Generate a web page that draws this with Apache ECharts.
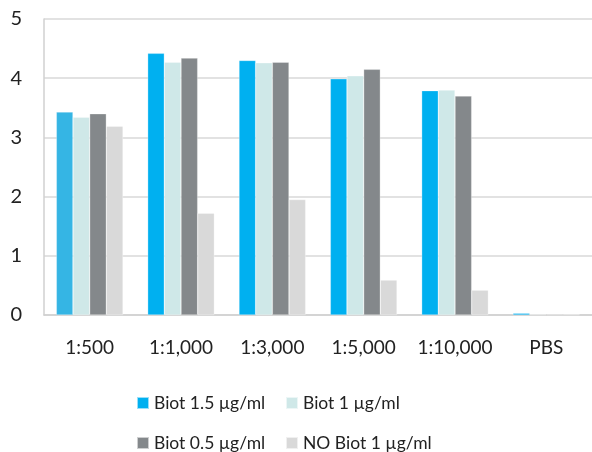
<!DOCTYPE html>
<html><head><meta charset="utf-8">
<script src="https://cdn.jsdelivr.net/npm/echarts@6/dist/echarts.min.js"></script>
<style>html,body{margin:0;padding:0;background:#fff}#c{width:592px;height:452px}</style>
</head><body><div id="c"></div>
<script>
const categories = ['1:500', '1:1,000', '1:3,000', '1:5,000', '1:10,000', 'PBS'];
const seriesNames = ['Biot 1.5 µg/ml', 'Biot 1 µg/ml', 'Biot 0.5 µg/ml', 'NO Biot 1 µg/ml'];
const biot15 = [3.43, 4.42, 4.30, 3.99, 3.79, 0.03];
const biot1 = [3.34, 4.27, 4.26, 4.04, 3.80, 0.01];
const biot05 = [3.40, 4.34, 4.27, 4.15, 3.70, 0.01];
const noBiot1 = [3.19, 1.72, 1.95, 0.59, 0.42, 0.01];
const yTicks = [0, 1, 2, 3, 4, 5];

const colors = ['#00B0F0', '#CFE8E8', '#84888B', '#D9D9D9'];
const values = [biot15, biot1, biot05, noBiot1];
const font = 'Lato, "Open Sans", sans-serif';

const chart = echarts.init(document.getElementById('c'));
const series = values.map((v, i) => ({
  name: seriesNames[i],
  type: 'bar',
  data: v.map((x, j) => (i === 0 && j === 0) ? {value: x, itemStyle: {color: '#35B5E4'}} : x),
  itemStyle: {color: colors[i], borderColor: 'rgba(255,255,255,0.6)', borderWidth: 0.5},
  barGap: '0%',
  barCategoryGap: '27%'
}));
const legendPos = [[131, 389], [280, 389], [131, 429], [280, 429]];
const legends = seriesNames.map((n, i) => ({
  data: [n], left: legendPos[i][0], top: legendPos[i][1],
  icon: 'rect', itemWidth: 12, itemHeight: 12, itemGap: 5,
  textStyle: {fontFamily: font, fontSize: 17.5, color: '#222'},
  selectedMode: false
}));
chart.setOption({
  animation: false,
  color: colors,
  legend: legends,
  grid: {left: 44, top: 19, width: 552, height: 296, containLabel: false},
  xAxis: {
    type: 'category', data: categories,
    axisLine: {lineStyle: {color: '#D0D0D0', width: 1.5}},
    axisTick: {show: false},
    axisLabel: {fontFamily: font, fontSize: 19, color: '#222', margin: 23, interval: 0}
  },
  yAxis: {
    type: 'value', min: 0, max: 5, interval: 1,
    axisLine: {show: true, lineStyle: {color: '#D0D0D0', width: 1.5}},
    splitLine: {lineStyle: {color: '#D9D9D9', width: 1.5}},
    axisLabel: {fontFamily: font, fontSize: 20, color: '#222', margin: 22,
      formatter: v => yTicks.includes(v) ? String(v) : ''}
  },
  series: series
});
</script></body></html>
